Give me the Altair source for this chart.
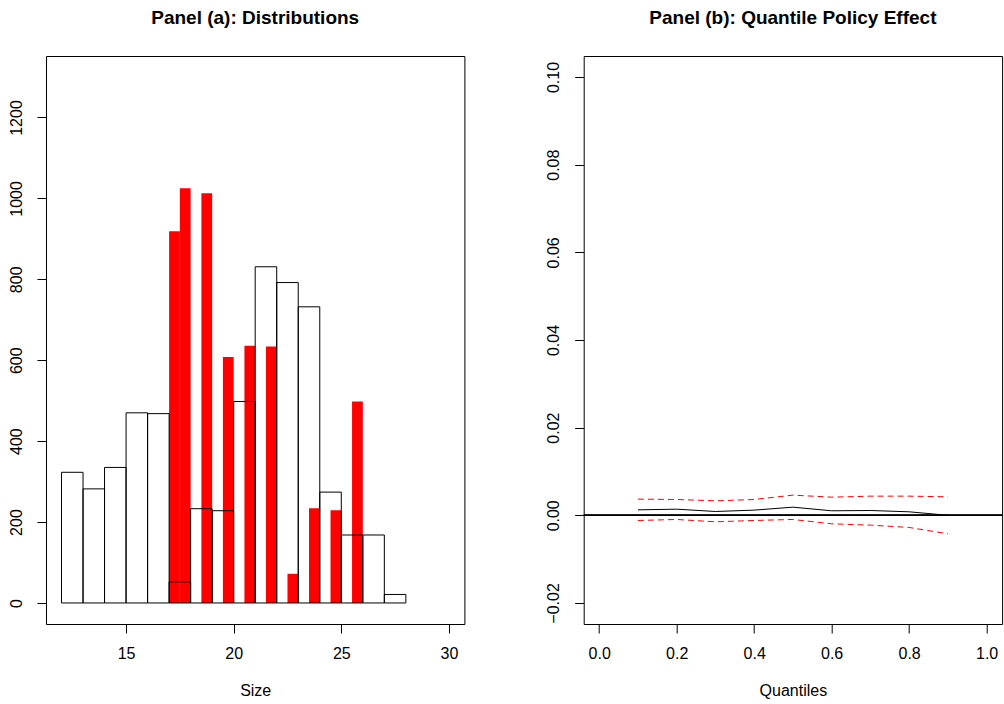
import altair as alt
import pandas as pd

# Panel (a): histogram of baseline sizes (unit bins, outlined)
white_start = [12, 13, 14, 15, 16, 17, 18, 19, 20, 21, 22, 23, 24, 25, 26, 27]
white_count = [323, 282, 335, 470, 468, 52, 233, 228, 498, 831, 792, 732, 274, 168, 168, 21]

# Panel (a): histogram of policy sizes (half-unit bins, red)
red_start = [17.0, 17.5, 18.5, 19.5, 20.5, 21.5, 22.5, 23.5, 24.5, 25.5]
red_count = [919, 1025, 1013, 608, 636, 634, 72, 234, 229, 498]

# Panel (b): quantile policy effect with bands
quantiles = [0.1, 0.2, 0.3, 0.4, 0.5, 0.6, 0.7, 0.8, 0.9]
effect = [0.00125, 0.0014, 0.00087, 0.00118, 0.00186, 0.00103, 0.0011, 0.0008, 0.0]
upper = [0.00369, 0.00361, 0.0033, 0.00361, 0.0046, 0.00414, 0.00437, 0.00437, 0.00422]
lower = [-0.00118, -0.00095, -0.00148, -0.00118, -0.00095, -0.00194, -0.00224, -0.00277, -0.00422]

FONT = "Liberation Sans"
W = 418.4
H = 568

white_df = pd.DataFrame({"start": white_start, "count": white_count})
white_df["end"] = white_df["start"] + 1
red_df = pd.DataFrame({"start": red_start, "count": red_count})
red_df["end"] = red_df["start"] + 0.5

xa = alt.Axis(values=[15, 20, 25, 30], title="Size", grid=False, domain=False,
              tickSize=9, tickColor="black", labelPadding=12, labelFontSize=16,
              labelColor="black", titleFontSize=16, titleFontWeight="normal",
              titleColor="black", titlePadding=21, labelFont=FONT, titleFont=FONT)
ya = alt.Axis(values=[0, 200, 400, 600, 800, 1000, 1200], format="d", title=None, grid=False,
              domain=False, tickSize=9, tickColor="black", labelPadding=13,
              labelFontSize=16, labelColor="black", labelAngle=270,
              labelAlign="center", labelBaseline="bottom", labelFont=FONT)
xs = alt.Scale(domain=[11.28, 30.72], nice=False, zero=False)
ys = alt.Scale(domain=[-52, 1352], nice=False, zero=False)

red_bars = alt.Chart(red_df).mark_rect(color="#ff0000", strokeWidth=0).encode(
    x=alt.X("start:Q", scale=xs, axis=xa),
    x2="end:Q",
    y=alt.Y("count:Q", scale=ys, axis=ya),
    y2=alt.datum(0),
)
white_bars = alt.Chart(white_df).mark_rect(fillOpacity=0, stroke="black", strokeWidth=1).encode(
    x=alt.X("start:Q", scale=xs, axis=xa),
    x2="end:Q",
    y=alt.Y("count:Q", scale=ys, axis=ya),
    y2=alt.datum(0),
)
left = alt.layer(red_bars, white_bars).properties(
    width=W, height=H,
    title=alt.TitleParams("Panel (a): Distributions", fontSize=19, fontWeight="bold",
                          font=FONT, color="black", anchor="middle", offset=28),
)

qdf = pd.DataFrame({"q": quantiles, "effect": effect, "upper": upper, "lower": lower})

xb = alt.Axis(values=[0, 0.2, 0.4, 0.6, 0.8, 1.0], format=".1f", title="Quantiles",
              grid=False, domain=False, tickSize=9, tickColor="black", labelPadding=12,
              labelFontSize=16, labelColor="black", titleFontSize=16,
              titleFontWeight="normal", titleColor="black", titlePadding=21,
              labelFont=FONT, titleFont=FONT)
yb = alt.Axis(values=[-0.02, 0, 0.02, 0.04, 0.06, 0.08, 0.10], format=".2f", title=None,
              grid=False, domain=False, tickSize=9, tickColor="black", labelPadding=13,
              labelFontSize=16, labelColor="black", labelAngle=270,
              labelAlign="center", labelBaseline="bottom", labelFont=FONT)
xbs = alt.Scale(domain=[-0.04, 1.04], nice=False, zero=False)
ybs = alt.Scale(domain=[-0.0248, 0.1048], nice=False, zero=False)

base_b = alt.Chart(qdf)
eff_line = base_b.mark_line(color="black", strokeWidth=1).encode(
    x=alt.X("q:Q", scale=xbs, axis=xb),
    y=alt.Y("effect:Q", scale=ybs, axis=yb),
)
up_line = base_b.mark_line(color="#ff0000", strokeWidth=1, strokeDash=[6, 4]).encode(
    x=alt.X("q:Q", scale=xbs, axis=xb),
    y=alt.Y("upper:Q", scale=ybs, axis=yb),
)
lo_line = base_b.mark_line(color="#ff0000", strokeWidth=1, strokeDash=[6, 4]).encode(
    x=alt.X("q:Q", scale=xbs, axis=xb),
    y=alt.Y("lower:Q", scale=ybs, axis=yb),
)
zero_rule = base_b.mark_rule(color="black", strokeWidth=1).encode(
    y=alt.datum(0, scale=ybs),
    x=alt.value(0),
    x2=alt.value(W),
)
right = alt.layer(zero_rule, up_line, lo_line, eff_line).properties(
    width=W, height=H,
    title=alt.TitleParams("Panel (b): Quantile Policy Effect", fontSize=19, fontWeight="bold",
                          font=FONT, color="black", anchor="middle", offset=28),
)

chart = alt.hconcat(left, right, spacing=118.7, bounds="flush").properties(
    padding={"left": 7, "top": 8, "right": 0, "bottom": 0},
    background="white",
).configure_view(stroke="black", strokeWidth=1).configure_axis(
    ticks=True
)

chart.save("out.html", embed_options={"renderer": "svg", "actions": False})
